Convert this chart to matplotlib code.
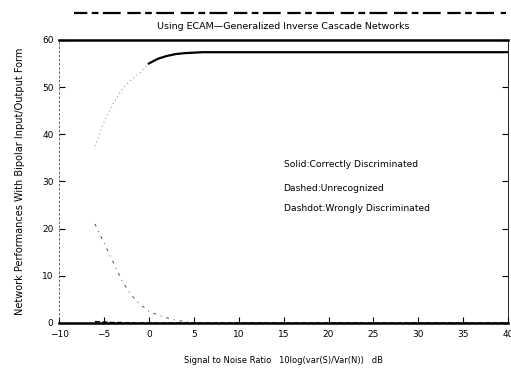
import numpy as np
import matplotlib
matplotlib.use("Agg")
import matplotlib.pyplot as plt
from matplotlib.lines import Line2D

# signal to noise ratio in dB
snr = [-6, -5, -4, -3, -2, -1, 0, 1, 2, 3, 4, 5, 6, 8, 10, 15, 20, 25, 30, 35, 40]
# patterns out of 60
correct = [37.5, 42.5, 46.5, 49.5, 51.5, 53, 55, 56, 56.6, 57, 57.2, 57.3, 57.4,
           57.4, 57.4, 57.4, 57.4, 57.4, 57.4, 57.4, 57.4]
unrecognized = [0.3, 0.2, 0.1, 0.1, 0, 0, 0, 0, 0, 0, 0, 0, 0,
                0, 0, 0, 0, 0, 0, 0, 0]
wrong = [21, 17, 13, 9, 6, 4, 2.5, 1.7, 1.1, 0.6, 0.3, 0.1, 0,
         0, 0, 0, 0, 0, 0, 0, 0]

xticks = [-10, -5, 0, 5, 10, 15, 20, 25, 30, 35, 40]
yticks = [0, 10, 20, 30, 40, 50, 60]

plt.rcParams['font.family'] = ['DejaVu Sans']
fig = plt.figure(figsize=(5.11, 3.71), dpi=100)
ax = fig.add_axes([0.1155, 0.1294, 0.879, 0.763])

snr = np.array(snr)
correct = np.array(correct)
lo = snr <= 0
hi = snr >= 0
# low SNR part comes out faint
ax.plot(snr[lo], correct[lo], color='0.35', lw=0.6, ls=(0, (1, 4)))
ax.plot(snr[hi], correct[hi], color='black', lw=1.6)
ax.plot(snr, unrecognized, color='black', lw=1.0, ls='--')
ax.plot(snr, wrong, color='0.3', lw=0.7, ls=(0, (3, 5, 1, 5)))

ax.set_xlim(-10, 40)
ax.set_ylim(0, 60)
ax.set_xticks(xticks)
ax.set_yticks(yticks)
ax.tick_params(direction='in', length=4, width=0.8, labelsize=6.5,
               right=True, top=False)
ax.tick_params(axis='x', pad=5)
ax.tick_params(axis='y', pad=4)
for s in ['top', 'bottom']:
    ax.spines[s].set_linewidth(1.8)
ax.spines['left'].set_linestyle((0, (2, 3)))
ax.spines['left'].set_linewidth(0.6)
ax.spines['left'].set_color('0.3')
ax.spines['right'].set_linewidth(0.6)

ax.text(15, 33.5, "Solid:Correctly Discriminated", fontsize=6.6, va='center')
ax.text(15, 28.6, "Dashed:Unrecognized", fontsize=6.6, va='center')
ax.text(15, 24.2, "Dashdot:Wrongly Discriminated", fontsize=6.6, va='center')

ax.set_title("Using ECAM\u2014Generalized Inverse Cascade Networks",
             fontsize=6.8, pad=8)
ax.set_xlabel("Signal to Noise Ratio   10log(var(S)/Var(N))   dB",
              fontsize=6, labelpad=12)
ax.set_ylabel("Network Performances With Bipolar Input/Output Form",
              fontsize=7, labelpad=12)

# cut-off first line of the heading
fig.add_artist(Line2D([0.145, 0.99], [0.965, 0.965], color='black', lw=1.6,
                      ls=(0, (6, 2, 3, 2, 8, 3)), transform=fig.transFigure))

fig.savefig("out.png", dpi=100)
